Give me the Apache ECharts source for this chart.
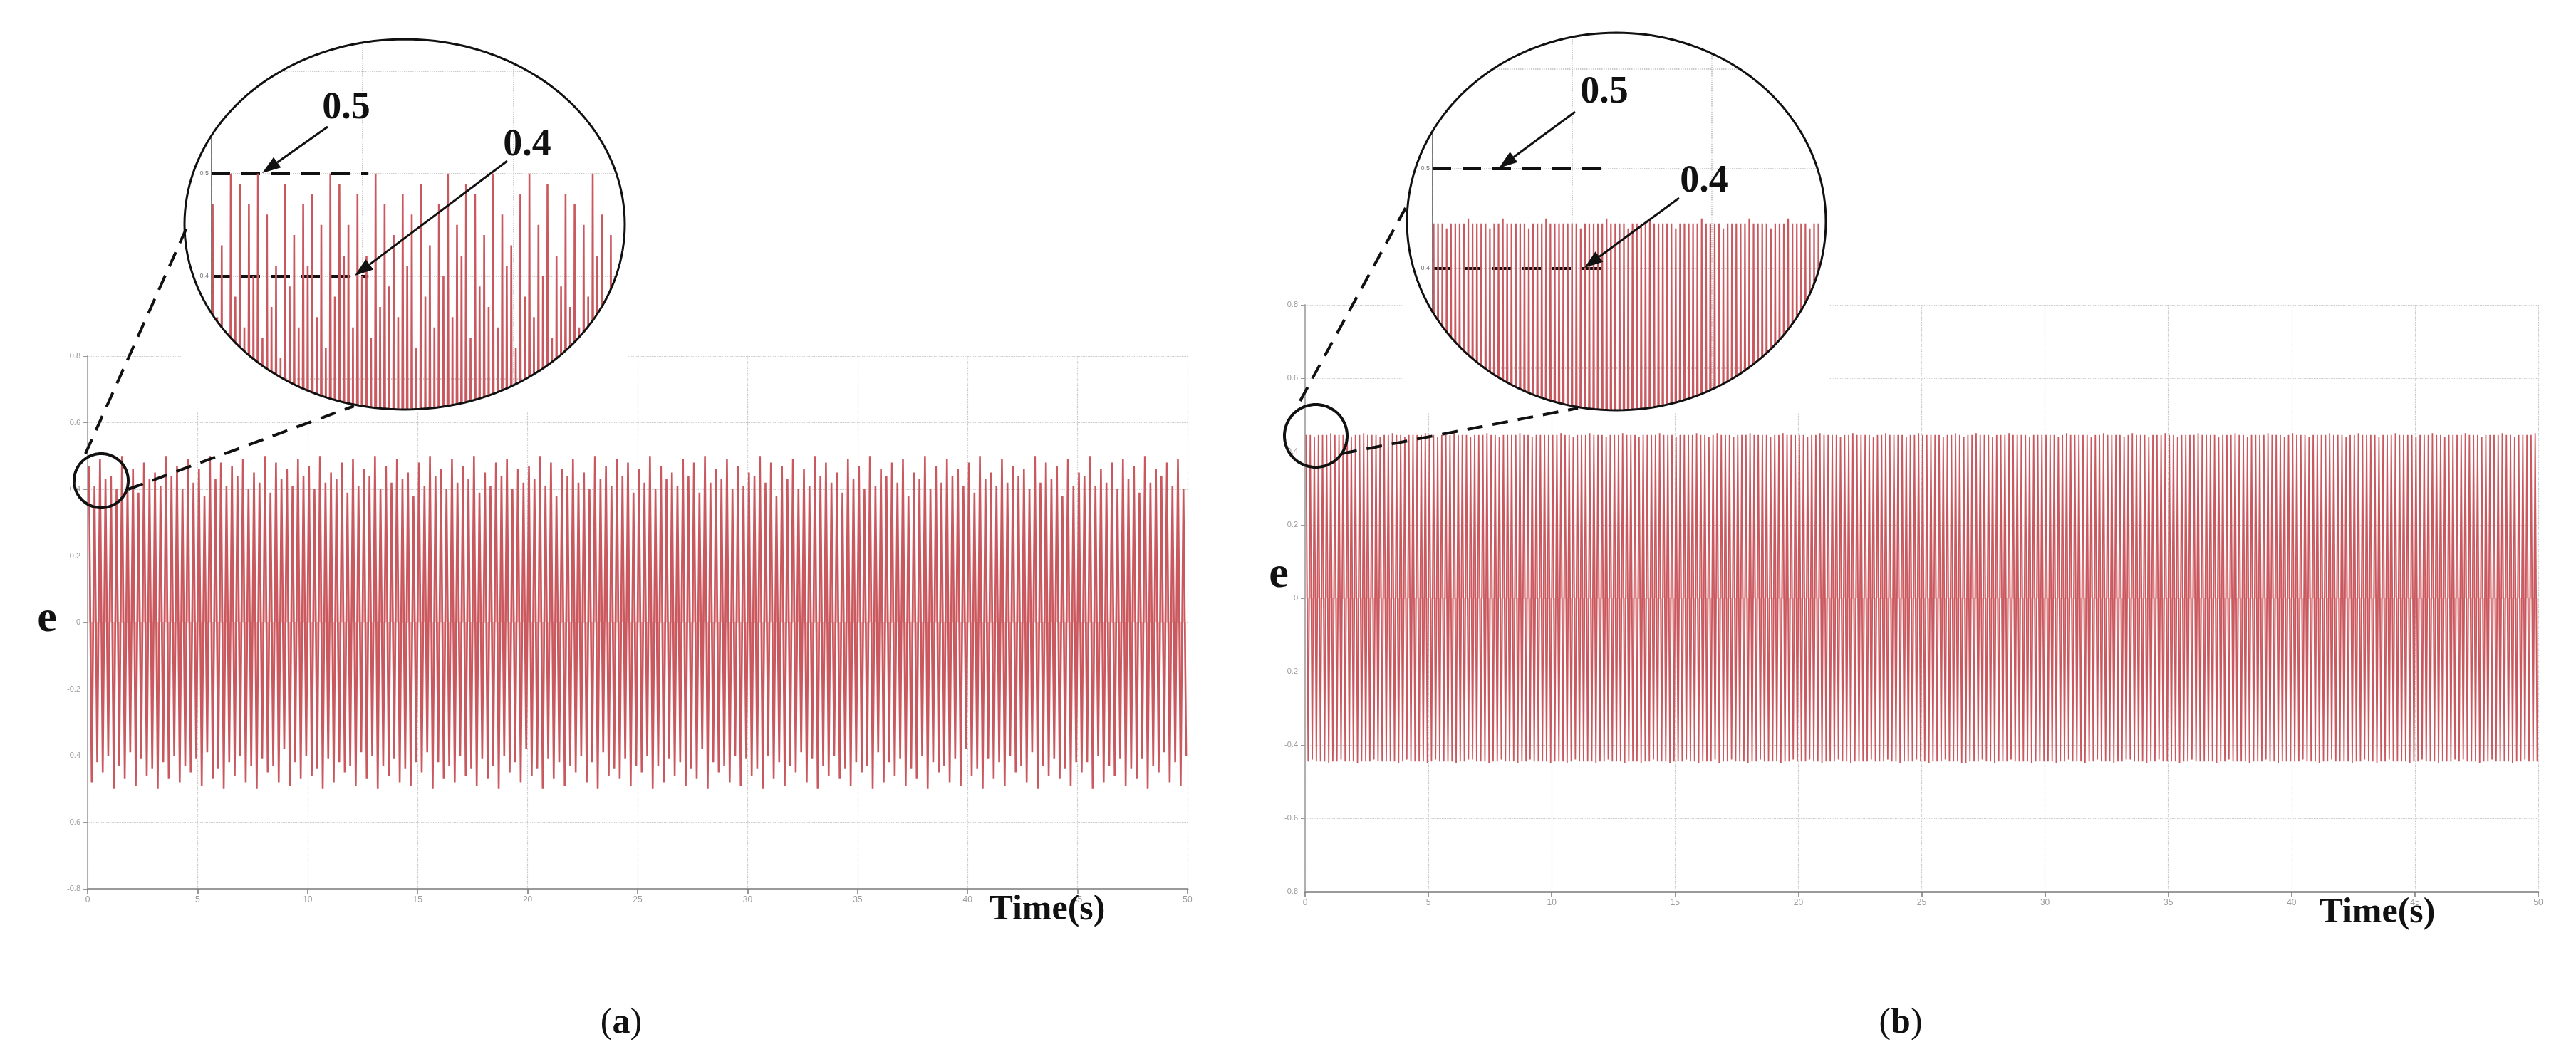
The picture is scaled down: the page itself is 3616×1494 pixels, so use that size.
<!DOCTYPE html>
<html><head><meta charset="utf-8">
<script src="https://cdn.jsdelivr.net/npm/echarts@6/dist/echarts.min.js"></script>
<style>html,body{margin:0;padding:0;background:#fff}#c{width:3616px;height:1494px}</style>
</head><body><div id="c"></div>
<script>
// ---------- data ----------
// (a) main signal: one peak and one trough per cycle, period 0.25 s
const periodA = 0.25;
const peaksA = [
 .47,.41,.49,.43,.44,.40,.50,.42,.46,.39,
 .48,.43,.45,.41,.50,.44,.47,.40,.49,.42,
 .46,.38,.50,.43,.48,.41,.47,.44,.49,.40,
 .45,.42,.50,.39,.48,.43,.46,.41,.49,.44,
 .47,.40,.50,.42,.45,.43,.48,.39,.49,.41,
 .46,.44,.50,.40,.47,.42,.49,.43,.45,.38,
 .48,.41,.50,.44,.46,.40,.49,.42,.47,.43,
 .50,.39,.45,.41,.48,.44,.49,.40,.46,.42,
 .47,.43,.50,.41,.48,.38,.46,.44,.49,.42,
 .45,.40,.50,.43,.47,.41,.49,.44,.48,.39,
 .46,.42,.50,.40,.47,.43,.45,.41,.49,.44,
 .48,.39,.50,.42,.46,.43,.49,.40,.47,.41,
 .45,.44,.50,.42,.48,.38,.47,.43,.49,.40,
 .46,.41,.50,.44,.48,.42,.45,.39,.49,.43,
 .47,.40,.50,.41,.46,.44,.48,.42,.49,.38,
 .45,.43,.50,.40,.47,.42,.49,.44,.46,.41,
 .48,.39,.50,.43,.45,.41,.49,.42,.47,.44,
 .46,.40,.50,.42,.48,.43,.47,.38,.49,.41,
 .45,.44,.50,.41,.46,.42,.48,.40,.49,.43,
 .47,.39,.50,.42,.46,.44,.48,.41,.49,.40];
const troughsA = [
 -.48,-.42,-.45,-.40,-.50,-.43,-.47,-.39,-.49,-.41,
 -.46,-.44,-.50,-.42,-.47,-.40,-.48,-.43,-.45,-.41,
 -.49,-.39,-.47,-.44,-.50,-.42,-.46,-.40,-.48,-.43,
 -.50,-.41,-.45,-.43,-.48,-.38,-.49,-.42,-.47,-.40,
 -.46,-.44,-.50,-.41,-.48,-.42,-.45,-.43,-.49,-.39,
 -.47,-.40,-.50,-.43,-.46,-.41,-.48,-.44,-.49,-.42,
 -.45,-.39,-.50,-.42,-.47,-.43,-.48,-.40,-.46,-.44,
 -.49,-.41,-.47,-.43,-.50,-.40,-.45,-.42,-.48,-.38,
 -.46,-.44,-.50,-.41,-.47,-.42,-.49,-.43,-.45,-.40,
 -.48,-.42,-.50,-.39,-.46,-.44,-.47,-.41,-.49,-.43,
 -.45,-.40,-.50,-.43,-.48,-.41,-.46,-.42,-.49,-.44,
 -.47,-.38,-.50,-.42,-.45,-.43,-.48,-.40,-.49,-.41,
 -.46,-.44,-.50,-.40,-.47,-.42,-.49,-.43,-.45,-.39,
 -.48,-.41,-.50,-.43,-.46,-.40,-.47,-.44,-.49,-.42,
 -.45,-.43,-.50,-.39,-.48,-.42,-.46,-.41,-.49,-.44,
 -.47,-.40,-.50,-.42,-.45,-.43,-.48,-.41,-.49,-.38,
 -.46,-.44,-.50,-.41,-.47,-.42,-.49,-.40,-.45,-.43,
 -.48,-.39,-.50,-.43,-.46,-.41,-.47,-.44,-.49,-.42,
 -.45,-.42,-.50,-.40,-.48,-.43,-.46,-.41,-.49,-.44,
 -.47,-.41,-.50,-.43,-.45,-.39,-.48,-.42,-.49,-.40];
// (b) main signal: period 1/6 s, constant amplitude
const periodB = 1/6;
const peaksB = [
 .445,.445,.44,.445,.445,.445,.45,.445,.445,.445,.445,.44,.445,.445,.45,.445,.445,.445,.44,.445,
 .445,.45,.445,.445,.44,.445,.445,.445,.445,.45,.445,.445,.44,.445,.445,.445,.45,.445,.445,.445,
 .44,.445,.445,.445,.45,.445,.445,.44,.445,.445,.445,.445,.45,.445,.445,.44,.445,.445,.445,.445,
 .445,.445,.45,.445,.445,.44,.445,.445,.445,.45,.445,.445,.445,.44,.445,.445,.445,.45,.445,.445,
 .445,.44,.445,.445,.445,.445,.45,.445,.445,.445,.44,.445,.445,.445,.445,.45,.445,.445,.44,.445,
 .45,.445,.445,.445,.44,.445,.445,.445,.45,.445,.445,.445,.445,.44,.445,.445,.45,.445,.445,.445,
 .445,.445,.44,.445,.445,.45,.445,.445,.445,.445,.44,.445,.445,.45,.445,.445,.445,.445,.44,.445,
 .445,.45,.445,.445,.445,.445,.44,.445,.445,.45,.445,.445,.445,.445,.445,.44,.445,.445,.45,.445,
 .44,.445,.445,.45,.445,.445,.445,.44,.445,.445,.445,.45,.445,.445,.445,.445,.44,.445,.445,.445,
 .445,.445,.445,.44,.445,.45,.445,.445,.445,.445,.445,.44,.445,.445,.45,.445,.445,.445,.445,.44,
 .445,.45,.445,.445,.445,.44,.445,.445,.445,.45,.445,.445,.44,.445,.445,.445,.445,.45,.445,.445,
 .445,.445,.44,.445,.445,.445,.45,.445,.445,.44,.445,.445,.445,.445,.45,.445,.445,.445,.44,.445,
 .45,.445,.445,.445,.44,.445,.445,.445,.445,.45,.445,.445,.445,.44,.445,.445,.45,.445,.445,.445,
 .445,.44,.445,.445,.445,.45,.445,.445,.445,.445,.44,.445,.445,.445,.45,.445,.445,.44,.445,.445,
 .445,.445,.45,.445,.445,.445,.44,.445,.445,.445,.445,.45,.445,.445,.44,.445,.445,.445,.445,.45];
const troughsB = [
 -.445,-.44,-.445,-.445,-.445,-.45,-.445,-.445,-.44,-.445,-.445,-.445,-.45,-.445,-.445,-.445,-.44,-.445,-.445,-.445,
 -.445,-.445,-.45,-.445,-.44,-.445,-.445,-.445,-.445,-.45,-.445,-.44,-.445,-.445,-.445,-.445,-.45,-.445,-.445,-.44,
 -.44,-.445,-.445,-.445,-.45,-.445,-.445,-.44,-.445,-.445,-.445,-.45,-.445,-.445,-.44,-.445,-.445,-.445,-.445,-.45,
 -.445,-.445,-.445,-.45,-.445,-.44,-.445,-.445,-.445,-.445,-.45,-.445,-.445,-.44,-.445,-.445,-.445,-.45,-.445,-.445,
 -.445,-.45,-.445,-.445,-.44,-.445,-.445,-.445,-.45,-.445,-.445,-.445,-.44,-.445,-.445,-.45,-.445,-.445,-.445,-.44,
 -.45,-.445,-.445,-.44,-.445,-.445,-.445,-.45,-.445,-.445,-.44,-.445,-.445,-.445,-.445,-.45,-.445,-.445,-.44,-.445,
 -.445,-.445,-.44,-.445,-.445,-.45,-.445,-.445,-.445,-.44,-.445,-.445,-.45,-.445,-.445,-.445,-.445,-.44,-.445,-.445,
 -.445,-.44,-.445,-.445,-.45,-.445,-.445,-.445,-.44,-.445,-.445,-.45,-.445,-.445,-.445,-.44,-.445,-.445,-.445,-.45,
 -.45,-.445,-.445,-.445,-.44,-.445,-.445,-.45,-.445,-.445,-.445,-.44,-.445,-.445,-.445,-.445,-.45,-.445,-.445,-.445,
 -.445,-.445,-.45,-.445,-.445,-.44,-.445,-.445,-.445,-.45,-.445,-.445,-.44,-.445,-.445,-.445,-.45,-.445,-.445,-.44,
 -.44,-.445,-.445,-.445,-.45,-.445,-.445,-.44,-.445,-.445,-.445,-.445,-.45,-.445,-.445,-.44,-.445,-.445,-.445,-.445,
 -.445,-.45,-.445,-.445,-.44,-.445,-.445,-.445,-.445,-.45,-.445,-.445,-.445,-.44,-.445,-.445,-.45,-.445,-.445,-.445,
 -.445,-.445,-.44,-.445,-.445,-.445,-.45,-.445,-.445,-.44,-.445,-.445,-.445,-.445,-.45,-.445,-.445,-.44,-.445,-.445,
 -.45,-.445,-.445,-.44,-.445,-.445,-.445,-.445,-.45,-.445,-.445,-.44,-.445,-.445,-.445,-.45,-.445,-.445,-.445,-.44,
 -.445,-.44,-.445,-.445,-.445,-.45,-.445,-.445,-.44,-.445,-.445,-.445,-.445,-.45,-.445,-.445,-.44,-.445,-.445,-.445];
// zoomed insets (magnified view near t = 0)
const insetPeriodA = 0.03;
const insetPeaksA = [
 .47,.36,.43,.33,.50,.38,.49,.35,.47,.40,
 .50,.34,.46,.37,.41,.32,.49,.39,.44,.35,
 .47,.41,.48,.36,.45,.33,.50,.38,.49,.42,
 .45,.35,.48,.40,.42,.34,.50,.37,.47,.39,
 .44,.36,.48,.41,.46,.33,.49,.38,.43,.35,
 .47,.40,.50,.36,.45,.42,.49,.34,.48,.39,
 .44,.37,.50,.35,.46,.41,.43,.33,.48,.38,
 .50,.36,.45,.40,.49,.34,.42,.39,.48,.37,
 .47,.35,.45,.38,.50,.42,.46,.36,.44,.40];
const insetTroughsA = [
 -.44,-.47,-.42,-.49,-.45,-.48,-.43,-.50,-.46,-.44,
 -.48,-.42,-.47,-.45,-.49,-.44,-.46,-.50,-.43,-.47,
 -.45,-.49,-.42,-.48,-.46,-.44,-.50,-.47,-.43,-.45,
 -.49,-.46,-.48,-.42,-.47,-.44,-.50,-.45,-.48,-.43,
 -.46,-.49,-.44,-.47,-.45,-.42,-.48,-.50,-.43,-.46,
 -.47,-.44,-.49,-.45,-.42,-.48,-.46,-.50,-.44,-.47,
 -.43,-.45,-.49,-.46,-.48,-.42,-.47,-.44,-.50,-.45,
 -.48,-.43,-.46,-.49,-.44,-.47,-.45,-.42,-.50,-.46,
 -.44,-.48,-.43,-.47,-.45,-.49,-.46,-.44,-.48,-.42];
const insetPeriodB = 0.031;
const insetPeaksB = [
 .445,.445,.445,.44,.445,.445,.445,.445,.45,.445,.445,.445,.445,.44,.445,
 .445,.45,.445,.445,.445,.445,.445,.44,.445,.445,.445,.45,.445,.445,.445,
 .445,.445,.445,.445,.44,.445,.445,.445,.445,.445,.45,.445,.445,.445,.445,
 .44,.445,.445,.445,.445,.45,.445,.445,.445,.445,.445,.44,.445,.445,.445,
 .445,.445,.45,.445,.445,.445,.445,.44,.445,.445,.445,.445,.445,.45,.445,
 .445,.445,.445,.44,.445,.445,.445,.45,.445,.445,.445,.445,.44,.445,.445];
const insetTroughsB = [
 -.445,-.445,-.44,-.445,-.445,-.445,-.45,-.445,-.445,-.445,-.445,-.44,-.445,-.445,-.445,
 -.445,-.445,-.445,-.45,-.445,-.445,-.445,-.445,-.44,-.445,-.445,-.445,-.445,-.45,-.445,
 -.44,-.445,-.445,-.445,-.445,-.445,-.45,-.445,-.445,-.445,-.44,-.445,-.445,-.445,-.445,
 -.445,-.445,-.45,-.445,-.445,-.445,-.445,-.44,-.445,-.445,-.445,-.45,-.445,-.445,-.445,
 -.445,-.44,-.445,-.445,-.445,-.45,-.445,-.445,-.445,-.445,-.44,-.445,-.445,-.445,-.445,
 -.45,-.445,-.445,-.445,-.44,-.445,-.445,-.445,-.445,-.45,-.445,-.445,-.445,-.44,-.445];
// axis ticks
const xTicks = [0,5,10,15,20,25,30,35,40,45,50];
const yTicks = [-0.8,-0.6,-0.4,-0.2,0,0.2,0.4,0.6,0.8];
const markedLevels = [0.5, 0.4];

// ---------- build ----------
function zig(peaks, troughs, period){
  const out=[];
  for(let i=0;i<peaks.length;i++){
    out.push([(i+0.25)*period, peaks[i]]);
    out.push([(i+0.75)*period, troughs[i]]);
  }
  return out;
}
const LINE='#c9585f', AREA='#f2a7a7';
const SERIF='"Liberation Serif","DejaVu Serif",serif';
const fmt = v => String(+Number(v).toFixed(2));

function mainX(gi){
  return {gridIndex:gi,type:'value',min:xTicks[0],max:xTicks[xTicks.length-1],interval:xTicks[1]-xTicks[0],
    axisLine:{onZero:false,lineStyle:{color:'#9a9a9a',width:3}},
    axisTick:{show:true,length:7,lineStyle:{color:'#777',width:1.5}},
    axisLabel:{fontSize:12,color:'#9a9a9a',margin:10,fontFamily:'Liberation Sans',formatter:fmt},
    splitLine:{show:true,lineStyle:{color:'#c4c4c4',width:1.2,type:'dotted'}}};
}
function mainY(gi){
  return {gridIndex:gi,type:'value',min:yTicks[0],max:yTicks[yTicks.length-1],interval:0.2,
    axisLine:{show:true,onZero:false,lineStyle:{color:'#b0b0b0',width:2}},
    axisTick:{show:true,length:6,lineStyle:{color:'#999'}},
    axisLabel:{fontSize:11,color:'#9a9a9a',margin:10,fontFamily:'Liberation Sans',formatter:fmt},
    splitLine:{show:true,lineStyle:{color:'#c8c8c8',width:1.2,type:'dotted'}}};
}
function insetX(gi,max){
  return {gridIndex:gi,type:'value',min:0,max:max,interval:1,z:5,
    axisLine:{show:false},axisTick:{show:false},axisLabel:{show:false},
    splitLine:{show:true,lineStyle:{color:'#bdbdbd',width:1.5,type:'dotted'}}};
}
function insetY(gi,min,max){
  return {gridIndex:gi,type:'value',min:min,max:max,splitNumber:4,z:5,
    axisLine:{show:true,onZero:false,lineStyle:{color:'#555',width:1.5}},
    axisTick:{show:false},
    axisLabel:{fontSize:9,color:'#777',margin:4,showMinLabel:false,showMaxLabel:false,formatter:fmt},
    splitLine:{show:true,lineStyle:{color:'#bdbdbd',width:1.5,type:'dotted'}}};
}
function sig(xi,yi,data,w,z,extra){
  return Object.assign({type:'line',xAxisIndex:xi,yAxisIndex:yi,data:data,showSymbol:false,symbol:'none',
    sampling:null,animation:false,silent:true,z:z,clip:true,
    lineStyle:{color:LINE,width:w},areaStyle:{color:AREA,opacity:0.9}},extra||{});
}
function levelMarks(xEnd){
  return {silent:true,symbol:['none','none'],label:{show:false},
    lineStyle:{color:'#111',width:4,type:[26,16]},
    data:markedLevels.map(v=>[{coord:[0,v]},{coord:[xEnd,v]}])};
}

// ---------- annotation geometry (pixels) ----------
const bigA={cx:568,cy:315,rx:309,ry:260}, bigB={cx:2269,cy:311,rx:294,ry:265};
const smallA={cx:142,cy:675,rx:38,ry:38}, smallB={cx:1847,cy:612,rx:44,ry:44};
function arcPts(e,a0,a1,n){const p=[];for(let i=0;i<=n;i++){const t=a0+(a1-a0)*i/n;p.push([e.cx+e.rx*Math.cos(t),e.cy+e.ry*Math.sin(t)]);}return p;}
function masks(e){
  const P=4,L=e.cx-e.rx-P,R=e.cx+e.rx+P,T=e.cy-e.ry-P,B=e.cy+e.ry+P,out=[];
  const quads=[
    {a0:Math.PI,a1:1.5*Math.PI,s:[L,e.cy],f:[e.cx,T],c:[L,T]},
    {a0:1.5*Math.PI,a1:2*Math.PI,s:[e.cx,T],f:[R,e.cy],c:[R,T]},
    {a0:0,a1:0.5*Math.PI,s:[R,e.cy],f:[e.cx,B],c:[R,B]},
    {a0:0.5*Math.PI,a1:Math.PI,s:[e.cx,B],f:[L,e.cy],c:[L,B]}];
  quads.forEach(q=>{
    const poly=[q.s].concat(arcPts(e,q.a0,q.a1,60)).concat([q.f,q.c]);
    out.push({type:'polygon',z:20,silent:true,shape:{points:poly},style:{fill:'#fff',stroke:null}});
  });
  return out;
}
function ellipseOutline(e,w){
  return {type:'polygon',z:30,silent:true,shape:{points:arcPts(e,0,2*Math.PI,180)},style:{fill:null,stroke:'#111',lineWidth:w}};
}
function whiteDisc(e){
  return {type:'polygon',z:3,silent:true,shape:{points:arcPts(e,0,2*Math.PI,180)},style:{fill:'#fff',stroke:null}};
}
function dashed(x1,y1,x2,y2){
  return {type:'line',z:31,silent:true,shape:{x1,y1,x2,y2},style:{stroke:'#111',lineWidth:4,lineDash:[22,14]}};
}
function arrow(x1,y1,x2,y2){
  const a=Math.atan2(y2-y1,x2-x1),L=26,W=9;
  const bx=x2-L*Math.cos(a),by=y2-L*Math.sin(a);
  return [
    {type:'line',z:31,silent:true,shape:{x1,y1,x2:bx,y2:by},style:{stroke:'#111',lineWidth:3}},
    {type:'polygon',z:31,silent:true,shape:{points:[[x2,y2],[bx-W*Math.sin(a),by+W*Math.cos(a)],[bx+W*Math.sin(a),by-W*Math.cos(a)]]},style:{fill:'#111'}}
  ];
}
function txt(x,y,s,size){
  return {type:'text',z:32,silent:true,x:x,y:y,
    style:{text:s,font:'bold '+size+'px '+SERIF,fill:'#111',align:'center',verticalAlign:'middle'}};
}
function caption(x,y,letter){
  return {type:'text',z:32,silent:true,x:x,y:y,style:{text:'{n|(}{b|'+letter+'}{n|)}',align:'center',verticalAlign:'middle',
    rich:{n:{font:'50px '+SERIF,fill:'#111'},b:{font:'bold 50px '+SERIF,fill:'#111'}}}};
}

const graphics=[].concat(
  [whiteDisc(bigA),whiteDisc(bigB)],
  masks(bigA),masks(bigB),
  [ellipseOutline(bigA,3),ellipseOutline(bigB,3),ellipseOutline(smallA,4),ellipseOutline(smallB,4)],
  [dashed(120,637,266,311),dashed(180,687,497,570),dashed(1825,563,1973,292),dashed(1883,637,2215,573)],
  arrow(460,178,368,243),arrow(712,226,498,387),
  arrow(2211,157,2104,236),arrow(2357,278,2224,376),
  [txt(486,152,'0.5',54),txt(740,204,'0.4',54),txt(2252,130,'0.5',54),txt(2392,255,'0.4',54),
   txt(66,870,'e',62),txt(1795,808,'e',62),
   txt(1470,1278,'Time(s)',50),txt(3337,1282,'Time(s)',50),
   caption(872,1437,'a'),caption(2668,1437,'b')]
);

const chart=echarts.init(document.getElementById('c'),null,{renderer:'canvas'});
chart.setOption({
  animation:false,
  backgroundColor:'#fff',
  grid:[
    {left:123,top:500,width:1544,height:748},
    {left:1832,top:428,width:1731,height:824},
    {left:297,top:55,width:580,height:520},
    {left:2011,top:46,width:552,height:530}
  ],
  xAxis:[mainX(0),mainX(1),insetX(2,2.74),insetX(3,2.82)],
  yAxis:[mainY(0),mainY(1),insetY(2,0.27,0.631),insetY(3,0.258,0.636)],
  series:[
    sig(0,0,zig(peaksA,troughsA,periodA),2.6,2),
    sig(1,1,zig(peaksB,troughsB,periodB),1.8,2),
    sig(2,2,zig(insetPeaksA,insetTroughsA,insetPeriodA),2.6,6,{markLine:levelMarks(1.04)}),
    sig(3,3,zig(insetPeaksB,insetTroughsB,insetPeriodB),2.2,6,{markLine:levelMarks(1.28)})
  ],
  graphic:graphics
});
</script></body></html>
